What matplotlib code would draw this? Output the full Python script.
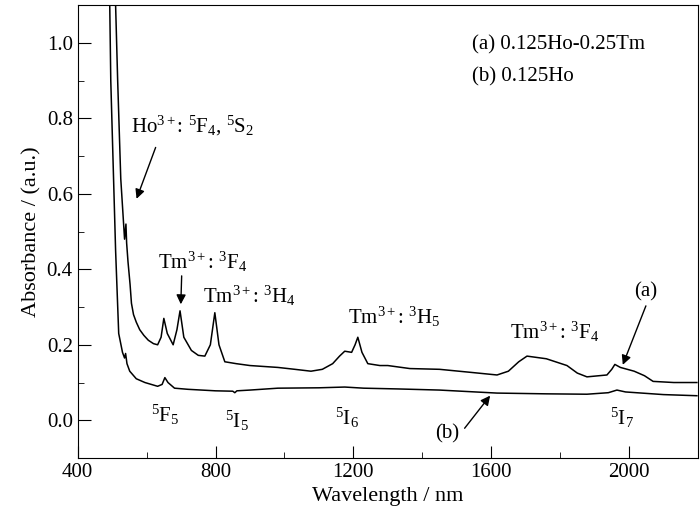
import matplotlib
matplotlib.use("Agg")
import matplotlib.pyplot as plt
from matplotlib.ticker import MultipleLocator

plt.rcParams['font.family'] = ['Liberation Serif', 'DejaVu Serif']
plt.rcParams['mathtext.fontset'] = 'custom'
plt.rcParams['mathtext.rm'] = 'Liberation Serif'
plt.rcParams['mathtext.it'] = 'Liberation Serif:italic'

# spectrum (a) 0.125Ho-0.25Tm
wl_a = [510, 516, 525, 536, 540, 542, 546, 552, 556, 562, 570, 580, 592, 605, 620, 632, 642,
        650, 660, 677, 688, 697, 708, 730, 750, 769, 785, 798, 810, 827, 860, 900, 981, 1030,
        1077, 1110, 1140, 1160, 1175, 1195, 1205, 1213, 1225, 1242, 1277, 1300, 1364, 1450,
        1540, 1617, 1650, 1680, 1704, 1760, 1820, 1850, 1878, 1936, 1950, 1959, 1975, 2015,
        2045, 2070, 2130, 2197]
ab_a = [1.10, 0.90, 0.64, 0.48, 0.52, 0.47, 0.42, 0.36, 0.31, 0.28, 0.26, 0.24, 0.225, 0.212,
        0.203, 0.20, 0.22, 0.27, 0.23, 0.20, 0.24, 0.29, 0.22, 0.185, 0.172, 0.17, 0.20, 0.285,
        0.20, 0.155, 0.15, 0.145, 0.14, 0.135, 0.13, 0.135, 0.15, 0.17, 0.183, 0.18, 0.20,
        0.22, 0.18, 0.15, 0.145, 0.145, 0.137, 0.135, 0.127, 0.12, 0.13, 0.155, 0.17, 0.163,
        0.145, 0.125, 0.115, 0.12, 0.135, 0.148, 0.14, 0.13, 0.118, 0.103, 0.10, 0.10]

# spectrum (b) 0.125Ho
wl_b = [493, 496, 510, 519, 530, 536, 539, 543, 551, 570, 595, 632, 645, 653, 662, 681, 720,
        800, 850, 856, 862, 900, 981, 1100, 1175, 1230, 1329, 1450, 1617, 1760, 1878, 1940,
        1965, 1990, 2100, 2197]
ab_b = [1.10, 0.90, 0.45, 0.23, 0.18, 0.165, 0.177, 0.15, 0.13, 0.11, 0.10, 0.09, 0.095,
        0.113, 0.10, 0.085, 0.082, 0.078, 0.077, 0.073, 0.078, 0.08, 0.085, 0.086, 0.088,
        0.085, 0.083, 0.08, 0.072, 0.07, 0.069, 0.073, 0.08, 0.075, 0.068, 0.065]

fig = plt.figure(figsize=(7, 5.24), dpi=100)
ax = fig.add_axes([0.111, 0.126, 0.886, 0.864])
ax.plot(wl_a, ab_a, color='black', lw=1.1)
ax.plot(wl_b, ab_b, color='black', lw=1.1)

ax.set_xlim(400, 2200)
ax.set_ylim(-0.1, 1.1)
ax.xaxis.set_major_locator(MultipleLocator(400))
ax.xaxis.set_minor_locator(MultipleLocator(200))
ax.yaxis.set_major_locator(MultipleLocator(0.2))
ax.yaxis.set_minor_locator(MultipleLocator(0.1))
ax.yaxis.set_major_formatter(matplotlib.ticker.FormatStrFormatter('%.1f'))
ax.tick_params(which='major', direction='in', length=9, labelsize=15)
ax.tick_params(which='minor', direction='in', length=4)
ax.set_xlabel('Wavelength / nm', fontsize=16)
ax.set_ylabel('Absorbance / (a.u.)', fontsize=16)

fs = 15
ax.text(1544, 0.995, '(a) 0.125Ho-0.25Tm', fontsize=fs, va='center')
ax.text(1544, 0.91, '(b) 0.125Ho', fontsize=fs, va='center')
ax.text(554, 0.78, r'Ho$^{3+}$: $^{5}$F$_{4}$, $^{5}$S$_{2}$', fontsize=fs, va='center')
ax.text(632, 0.42, r'Tm$^{3+}$: $^{3}$F$_{4}$', fontsize=fs, va='center')
ax.text(763, 0.33, r'Tm$^{3+}$: $^{3}$H$_{4}$', fontsize=fs, va='center')
ax.text(1184, 0.275, r'Tm$^{3+}$: $^{3}$H$_{5}$', fontsize=fs, va='center')
ax.text(1654, 0.235, r'Tm$^{3+}$: $^{3}$F$_{4}$', fontsize=fs, va='center')
ax.text(612, 0.013, r'$^{5}$F$_{5}$', fontsize=fs, va='center')
ax.text(827, -0.003, r'$^{5}$I$_{5}$', fontsize=fs, va='center')
ax.text(1146, 0.005, r'$^{5}$I$_{6}$', fontsize=fs, va='center')
ax.text(1944, 0.005, r'$^{5}$I$_{7}$', fontsize=fs, va='center')
ax.text(2049, 0.34, '(a)', fontsize=fs, ha='center', va='center')
ax.text(1471, -0.035, '(b)', fontsize=fs, ha='center', va='center')

arr = dict(arrowstyle='-|>', color='black', lw=1.0, mutation_scale=14)
ax.annotate('', xy=(568, 0.58), xytext=(629, 0.73), arrowprops=arr)
ax.annotate('', xy=(699, 0.30), xytext=(702, 0.39), arrowprops=arr)
ax.annotate('', xy=(1979, 0.14), xytext=(2052, 0.31), arrowprops=arr)
ax.annotate('', xy=(1602, 0.071), xytext=(1518, -0.027), arrowprops=arr)

fig.savefig('out.png', dpi=100)
